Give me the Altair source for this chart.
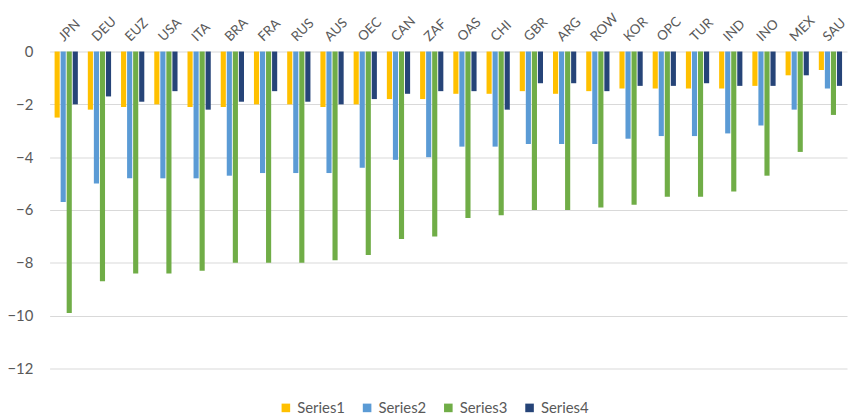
import altair as alt
import pandas as pd

categories = ["JPN", "DEU", "EUZ", "USA", "ITA", "BRA", "FRA", "RUS", "AUS", "OEC",
              "CAN", "ZAF", "OAS", "CHI", "GBR", "ARG", "ROW", "KOR", "OPC", "TUR",
              "IND", "INO", "MEX", "SAU"]
series1 = [-2.5, -2.2, -2.1, -2.0, -2.1, -2.1, -2.0, -2.0, -2.1, -2.0,
           -1.8, -1.8, -1.6, -1.6, -1.5, -1.6, -1.5, -1.4, -1.4, -1.4,
           -1.4, -1.3, -0.9, -0.7]
series2 = [-5.7, -5.0, -4.8, -4.8, -4.8, -4.7, -4.6, -4.6, -4.6, -4.4,
           -4.1, -4.0, -3.6, -3.6, -3.5, -3.5, -3.5, -3.3, -3.2, -3.2,
           -3.1, -2.8, -2.2, -1.4]
series3 = [-9.9, -8.7, -8.4, -8.4, -8.3, -8.0, -8.0, -8.0, -7.9, -7.7,
           -7.1, -7.0, -6.3, -6.2, -6.0, -6.0, -5.9, -5.8, -5.5, -5.5,
           -5.3, -4.7, -3.8, -2.4]
series4 = [-2.0, -1.7, -1.9, -1.5, -2.2, -1.9, -1.5, -1.9, -2.0, -1.8,
           -1.6, -1.5, -1.5, -2.2, -1.2, -1.2, -1.5, -1.3, -1.3, -1.2,
           -1.3, -1.3, -0.9, -1.3]
series_names = ["Series1", "Series2", "Series3", "Series4"]
series_colors = ["#FFC000", "#5B9BD5", "#70AD47", "#264478"]
y_ticks = [0, -2, -4, -6, -8, -10, -12]

rows = []
for name, vals in zip(series_names, [series1, series2, series3, series4]):
    for c, v in zip(categories, vals):
        rows.append({"cat": c, "series": name, "value": v})
df = pd.DataFrame(rows)

font = "Lato"
gray = "#595959"

chart = alt.Chart(df).mark_bar().encode(
    x=alt.X("cat:N", sort=categories, title=None,
            scale=alt.Scale(paddingInner=0.3, paddingOuter=0.15),
            axis=alt.Axis(orient="top", labelAngle=315, labelAlign="left",
                          labelBaseline="bottom", ticks=False, domain=False,
                          labelPadding=8, labelFontSize=13.5, labelColor=gray,
                          labelFont=font)),
    xOffset=alt.XOffset("series:N", sort=series_names,
                        scale=alt.Scale(paddingInner=0.15)),
    y=alt.Y("value:Q", title=None,
            scale=alt.Scale(domain=[-12, 0], nice=False),
            axis=alt.Axis(values=y_ticks, grid=True, gridColor="#d9d9d9",
                          domain=False, ticks=False, labelPadding=17,
                          labelFontSize=15, labelColor=gray, labelFont=font)),
    color=alt.Color("series:N", sort=series_names,
                    scale=alt.Scale(domain=series_names, range=series_colors),
                    legend=alt.Legend(title=None, orient="none", direction="horizontal",
                                      legendX=231, legendY=352, symbolType="square",
                                      symbolSize=75, symbolStrokeWidth=0,
                                      labelFontSize=15, labelColor=gray, labelFont=font,
                                      columnPadding=14, labelOffset=4)),
).properties(
    width=805, height=320,
    autosize=alt.AutoSizeParams(type="none"),
    padding={"left": 42, "top": 42, "right": 5, "bottom": 48},
).configure_view(stroke=None)

chart.save("out.html", embed_options={"renderer": "svg", "actions": False})
